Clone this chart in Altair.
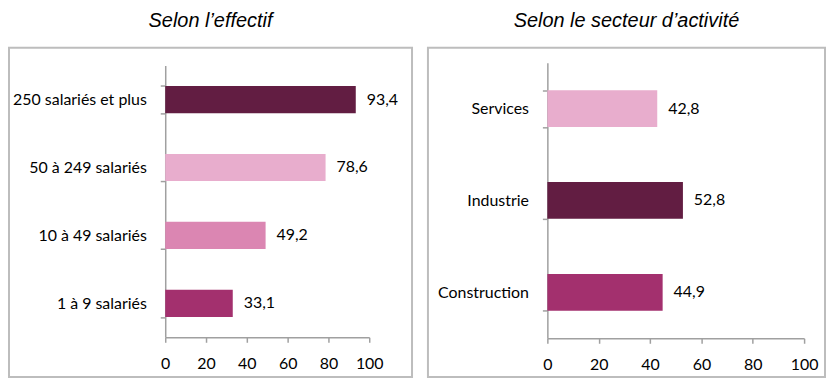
import altair as alt
import pandas as pd

# --- data -------------------------------------------------------------
eff_cats = ["250 salariés et plus", "50 à 249 salariés", "10 à 49 salariés", "1 à 9 salariés"]
eff_vals = [93.4, 78.6, 49.2, 33.1]
eff_labels = ["93,4", "78,6", "49,2", "33,1"]
eff_colors = ["#621D42", "#E8ADCD", "#DB86B2", "#A3306E"]

sec_cats = ["Services", "Industrie", "Construction"]
sec_vals = [42.8, 52.8, 44.9]
sec_labels = ["42,8", "52,8", "44,9"]
sec_colors = ["#E8ADCD", "#621D42", "#A3306E"]

x_ticks = [0, 20, 40, 60, 80, 100]

LABEL_FONT = "Lato"
LABEL_SIZE = 16
AXIS_COLOR = "#A0A0A0"


def panel(cats, vals, labels, colors, title, width, height, yrange, box):
    df = pd.DataFrame({"cat": cats, "val": vals, "lab": labels})
    yenc = alt.Y(
        "cat:N",
        sort=cats,
        title=None,
        scale=alt.Scale(paddingInner=0.6, paddingOuter=0.3, range=yrange),
        axis=alt.Axis(
            tickBand="extent",
            domainColor=AXIS_COLOR,
            domainWidth=1.5,
            tickColor=AXIS_COLOR,
            tickWidth=1.5,
            tickSize=5,
            labelFont=LABEL_FONT,
            labelFontSize=LABEL_SIZE,
            labelColor="#000000",
            labelPadding=14,
        ),
    )
    xenc = alt.X(
        "val:Q",
        title=None,
        scale=alt.Scale(domain=[0, 100], nice=False),
        axis=alt.Axis(
            values=x_ticks,
            grid=False,
            labelFlush=False,
            domainColor=AXIS_COLOR,
            domainWidth=1.5,
            tickColor=AXIS_COLOR,
            tickWidth=1.5,
            tickSize=5,
            labelFont=LABEL_FONT,
            labelFontSize=LABEL_SIZE,
            labelColor="#000000",
            labelPadding=13,
        ),
    )
    base = alt.Chart(df)
    bars = base.mark_bar().encode(
        x=xenc,
        y=yenc,
        color=alt.Color("cat:N", scale=alt.Scale(domain=cats, range=colors), legend=None),
    )
    text = base.mark_text(
        align="left", baseline="middle", dx=11, font=LABEL_FONT, fontSize=LABEL_SIZE, color="#000000"
    ).encode(x=alt.X("val:Q"), y=alt.Y("cat:N", sort=cats), text="lab:N")
    frame = (
        alt.Chart(pd.DataFrame({"k": [0]}))
        .mark_rect(filled=False, stroke="#BDBDBD", strokeWidth=2)
        .encode(
            x=alt.value(box[0]),
            x2=alt.value(box[1]),
            y=alt.value(box[2]),
            y2=alt.value(box[3]),
        )
    )
    return alt.layer(frame, bars, text).properties(
        width=width,
        height=height,
        title=alt.TitleParams(
            title,
            font="Liberation Sans",
            fontSize=20,
            fontStyle="italic",
            fontWeight="normal",
            color="#000000",
            anchor="middle",
            frame="bounds",
            offset=16,
        ),
    )


left = panel(eff_cats, eff_vals, eff_labels, eff_colors, "Selon l’effectif",
             205, 276, [3, 276], (-157, 248, -15, 316))
right = panel(sec_cats, sec_vals, sec_labels, sec_colors, "Selon le secteur d’activité",
              258, 277, [0, 277], (-120, 279, -15, 316))

chart = (
    alt.hconcat(left, right, spacing=14)
    .resolve_scale(color="independent", y="independent", x="independent")
    .properties(padding={"left": 0, "top": 2, "right": 0, "bottom": 0})
    .configure_view(stroke=None)
)

chart.save("out.html", embed_options={"renderer": "svg", "actions": False})
